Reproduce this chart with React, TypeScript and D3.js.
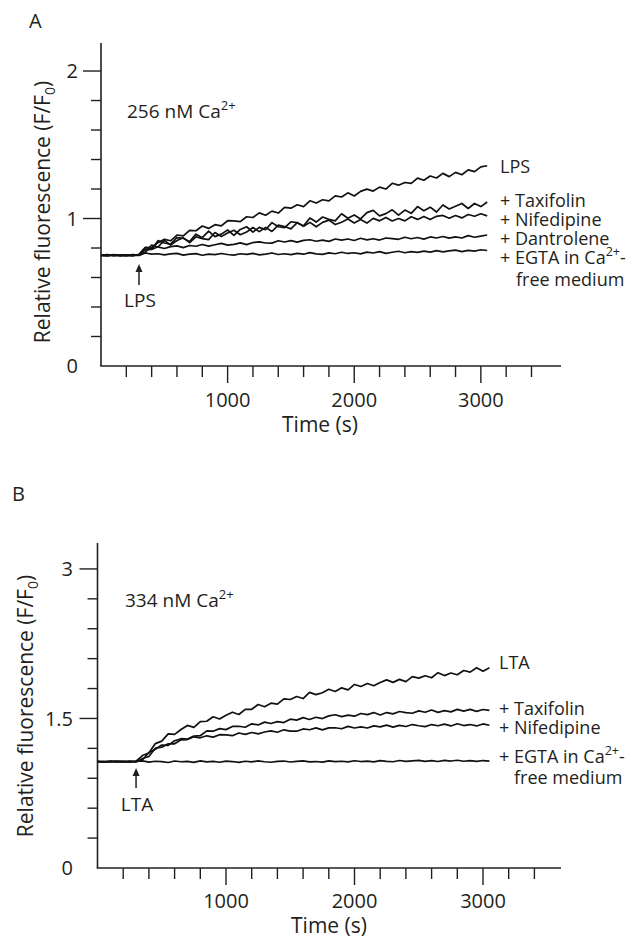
import React from 'react';
import * as d3 from 'd3';

// ---------------- DATA ----------------
const SAMPLE_STEP = 50; // seconds between samples

const A_LPS = [0.752,0.747,0.755,0.749,0.754,0.746,0.758,
0.805,0.803,0.836,0.859,0.849,0.888,0.882,0.920,0.917,0.949,0.933,0.958,0.950,
0.985,0.984,0.979,1.012,1.007,1.038,1.022,1.050,1.037,1.076,
1.070,1.093,1.081,1.120,1.105,1.127,1.120,1.153,1.146,1.174,
1.153,1.184,1.199,1.186,1.213,1.200,1.239,1.226,1.244,1.238,
1.274,1.259,1.288,1.275,1.306,1.284,1.313,1.297,1.330,1.318,1.350,1.358];
const A_TAX = [0.751,0.755,0.748,0.753,0.750,0.756,0.752,
0.802,0.792,0.850,0.834,0.826,0.871,0.866,0.843,0.894,0.870,0.914,0.877,0.894,
0.922,0.886,0.926,0.944,0.908,0.940,0.924,0.972,0.944,0.938,
0.978,0.972,0.950,1.003,0.976,1.010,0.994,0.984,1.032,1.002,
1.024,0.997,1.040,1.055,1.018,1.033,1.059,1.023,1.057,1.035,
1.081,1.053,1.077,1.044,1.092,1.065,1.083,1.102,1.068,1.102,1.081,1.112];
const A_NIF = [0.749,0.753,0.751,0.746,0.752,0.750,0.755,
0.770,0.820,0.807,0.852,0.820,0.851,0.869,0.837,0.876,0.864,0.857,0.905,0.878,
0.902,0.920,0.890,0.908,0.939,0.911,0.940,0.912,0.955,0.946,
0.930,0.972,0.947,0.974,0.944,0.974,0.989,0.959,0.975,0.996,
0.970,0.993,0.969,1.001,0.984,1.007,0.983,1.000,0.984,1.012,
0.994,1.014,0.993,1.015,1.021,1.002,1.020,1.004,1.027,1.015,1.032,1.018];
const A_DAN = [0.750,0.752,0.748,0.754,0.749,0.753,0.751,
0.788,0.791,0.808,0.797,0.809,0.814,0.803,0.817,0.812,0.824,0.813,0.822,0.831,
0.820,0.825,0.835,0.823,0.837,0.842,0.834,0.833,0.849,0.841,
0.850,0.840,0.852,0.856,0.846,0.854,0.845,0.861,0.854,0.861,
0.851,0.866,0.855,0.863,0.854,0.868,0.864,0.859,0.873,0.863,
0.871,0.860,0.875,0.868,0.878,0.867,0.876,0.868,0.884,0.873,0.881,0.888];
const A_EGTA = [0.751,0.749,0.753,0.750,0.748,0.752,0.750,
0.766,0.758,0.761,0.753,0.760,0.764,0.752,0.758,0.762,0.751,0.759,0.755,0.763,
0.756,0.752,0.761,0.757,0.764,0.753,0.759,0.766,0.756,0.761,
0.755,0.764,0.758,0.769,0.760,0.757,0.767,0.761,0.771,0.763,
0.768,0.760,0.772,0.766,0.775,0.764,0.771,0.778,0.768,0.776,
0.770,0.779,0.772,0.782,0.774,0.780,0.786,0.776,0.784,0.779,0.788,0.783];

const B_LTA = [1.068,1.062,1.072,1.064,1.070,1.063,1.071,
1.128,1.153,1.248,1.273,1.345,1.340,1.389,1.430,1.411,1.469,1.472,1.517,1.494,
1.532,1.563,1.540,1.592,1.592,1.640,1.618,1.653,1.643,1.697,
1.690,1.720,1.700,1.762,1.739,1.758,1.793,1.771,1.807,1.787,
1.841,1.821,1.851,1.828,1.860,1.887,1.862,1.892,1.869,1.919,
1.905,1.929,1.908,1.959,1.930,1.956,1.938,1.981,1.965,2.009,1.974,2.008];
const B_TAX = [1.066,1.071,1.063,1.069,1.065,1.072,1.068,
1.084,1.159,1.191,1.234,1.230,1.276,1.297,1.294,1.323,1.327,1.375,1.372,1.398,
1.388,1.420,1.422,1.412,1.446,1.435,1.463,1.449,1.468,1.459,
1.493,1.483,1.508,1.490,1.512,1.499,1.526,1.537,1.519,1.534,
1.523,1.550,1.539,1.559,1.535,1.559,1.546,1.570,1.559,1.552,
1.576,1.562,1.585,1.561,1.578,1.566,1.591,1.573,1.591,1.571,1.590,1.581];
const B_NIF = [1.070,1.064,1.068,1.073,1.066,1.069,1.064,
1.098,1.119,1.202,1.211,1.246,1.246,1.286,1.288,1.316,1.306,1.326,1.313,1.337,
1.335,1.327,1.354,1.341,1.359,1.346,1.364,1.376,1.362,1.386,
1.373,1.372,1.395,1.387,1.405,1.385,1.406,1.407,1.397,1.421,
1.404,1.415,1.404,1.426,1.415,1.433,1.413,1.430,1.419,1.439,
1.427,1.418,1.439,1.427,1.443,1.425,1.447,1.429,1.439,1.425,1.445,1.432];
const B_EGTA = [1.068,1.064,1.071,1.065,1.069,1.063,1.070,
1.075,1.062,1.071,1.067,1.058,1.073,1.066,1.070,1.060,1.074,1.065,1.069,1.061,
1.072,1.068,1.059,1.071,1.064,1.075,1.066,1.061,1.070,1.073,
1.063,1.069,1.075,1.064,1.068,1.062,1.074,1.067,1.071,1.064,
1.076,1.068,1.072,1.065,1.077,1.070,1.066,1.078,1.069,1.075,
1.080,1.070,1.077,1.068,1.079,1.073,1.081,1.071,1.077,1.069,1.078,1.072];

const A_LABELS = ['LPS', '+ Taxifolin', '+ Nifedipine', '+ Dantrolene', '+ EGTA in Ca'];
const B_LABELS = ['LTA', '+ Taxifolin', '+ Nifedipine', '+ EGTA in Ca'];

const X_TICKS = [200,400,600,800,1000,1200,1400,1600,1800,2000,2200,2400,2600,2800,3000,3200,3400];
const X_LABELS = [1000, 2000, 3000];
const A_Y_TICKS = [0.2,0.4,0.6,0.8,1.0,1.2,1.4,1.6,1.8,2.0];
const A_Y_LABELS = [0, 1, 2];
const B_Y_TICKS = [0.3,0.6,0.9,1.2,1.5,1.8,2.1,2.4,2.7,3.0];
const B_Y_LABELS = [0, 1.5, 3];
const ADD_TIME = 300; // stimulus added (s)

// ---------------- STYLE ----------------
const INK = '#231f20';
const FONT = "'Open Sans', 'Noto Sans', sans-serif";

type PanelProps = {
  letter: string; letterX: number; letterY: number;
  xRange: [number, number]; xMax: number;
  yRange: [number, number]; yMax: number;
  yTicks: number[]; yLabels: number[]; yLabelX: number;
  series: number[][]; labels: string[]; labelBaselines: number[];
  labelX: number; freeX: number; freeY: number;
  conc: string; concX: number; concY: number;
  stim: string; stimLabelY: number; arrowTip: number; arrowTail: number;
  titleX: number; titleY: number;
  xLabelY: number; timeX: number; timeY: number;
};

function Panel(p: PanelProps) {
  const x = d3.scaleLinear().domain([0, p.xMax]).range(p.xRange);
  const y = d3.scaleLinear().domain([0, p.yMax]).range(p.yRange);
  const line = d3.line<number>().x((_, i) => x(i * SAMPLE_STEP)).y((d) => y(d));
  const x0 = p.xRange[0];
  const y0 = p.yRange[0];
  const ax = x(ADD_TIME);
  const last = p.labels.length - 1;
  return (
    <g fontFamily={FONT} fill={INK}>
      <text x={p.letterX} y={p.letterY} fontSize={20}>{p.letter}</text>
      {/* axes */}
      <line x1={x0} x2={x0} y1={y0} y2={p.yRange[1]} stroke={INK} strokeWidth={1.6} />
      <line x1={x0 - 0.8} x2={p.xRange[1]} y1={y0} y2={y0} stroke={INK} strokeWidth={1.6} />
      {p.yTicks.map((t) => {
        const major = p.yLabels.some((l) => Math.abs(l - t) < 1e-6);
        return <line key={'yt' + t} x1={x0 - (major ? 18 : 10)} x2={x0} y1={y(t)} y2={y(t)} stroke={INK} strokeWidth={1.4} />;
      })}
      {p.yLabels.map((t) => (
        <text key={'yl' + t} x={p.yLabelX} y={y(t)} dy="0.36em" textAnchor="end" fontSize={20}>{String(t)}</text>
      ))}
      {X_TICKS.map((t) => {
        const major = X_LABELS.includes(t);
        return <line key={'xt' + t} x1={x(t)} x2={x(t)} y1={y0} y2={y0 + (major ? 17 : 11)} stroke={INK} strokeWidth={1.4} />;
      })}
      {X_LABELS.map((t) => (
        <text key={'xl' + t} x={x(t)} y={p.xLabelY} textAnchor="middle" fontSize={20}>{String(t)}</text>
      ))}
      <text x={p.timeX} y={p.timeY} textAnchor="middle" fontSize={21}>Time (s)</text>
      <text transform={`translate(${p.titleX},${p.titleY}) rotate(-90)`} textAnchor="middle" fontSize={21}>
        Relative fluorescence (F/F<tspan fontSize={14} dy={5}>0</tspan><tspan dy={-5}>)</tspan>
      </text>
      {/* traces */}
      {p.series.map((s, i) => (
        <path key={'s' + i} d={line(s) || ''} fill="none" stroke="#111" strokeWidth={1.7} strokeLinejoin="round" />
      ))}
      {/* concentration annotation */}
      <text x={p.concX} y={p.concY} fontSize={19}>
        {p.conc}<tspan fontSize={13} dy={-8}>2+</tspan>
      </text>
      {/* stimulus arrow */}
      <line x1={ax} x2={ax} y1={p.arrowTail} y2={p.arrowTip + 5} stroke={INK} strokeWidth={1.5} />
      <path d={`M${ax},${p.arrowTip} L${ax - 3.5},${p.arrowTip + 8} L${ax + 3.5},${p.arrowTip + 8} Z`} fill={INK} />
      <text x={ax + 1} y={p.stimLabelY} textAnchor="middle" fontSize={19}>{p.stim}</text>
      {/* series labels */}
      {p.labels.map((l, i) => (
        <text key={'lab' + i} x={p.labelX} y={p.labelBaselines[i]} fontSize={18}>
          {l}
          {i === last ? <><tspan fontSize={12.5} dy={-8}>2+</tspan><tspan dy={8}>-</tspan></> : null}
        </text>
      ))}
      <text x={p.freeX} y={p.freeY} fontSize={18}>free medium</text>
    </g>
  );
}

export default function App() {
  return (
    <svg width={634} height={940} style={{ position: 'absolute', left: 0, top: 0, background: '#fff' }}>
      <rect width={634} height={940} fill="#fff" />
      <Panel
        letter="A" letterX={29} letterY={28}
        xRange={[101, 561]} xMax={3633}
        yRange={[366, 43]} yMax={2.19}
        yTicks={A_Y_TICKS} yLabels={A_Y_LABELS} yLabelX={78}
        series={[A_LPS, A_TAX, A_NIF, A_DAN, A_EGTA]}
        labels={A_LABELS} labelBaselines={[173, 207, 226, 245, 264]}
        labelX={500} freeX={516} freeY={286}
        conc="256 nM Ca" concX={127} concY={118}
        stim="LPS" stimLabelY={307} arrowTip={264} arrowTail={285}
        titleX={50} titleY={212}
        xLabelY={407} timeX={320} timeY={432}
      />
      <Panel
        letter="B" letterX={12} letterY={501}
        xRange={[97.5, 561]} xMax={3607}
        yRange={[868, 543]} yMax={3.26}
        yTicks={B_Y_TICKS} yLabels={B_Y_LABELS} yLabelX={73}
        series={[B_LTA, B_TAX, B_NIF, B_EGTA]}
        labels={B_LABELS} labelBaselines={[669, 715, 734, 763]}
        labelX={499} freeX={514} freeY={784}
        conc="334 nM Ca" concX={125} concY={607}
        stim="LTA" stimLabelY={811} arrowTip={768} arrowTail={788}
        titleX={33} titleY={706}
        xLabelY={908} timeX={329} timeY={933}
      />
    </svg>
  );
}
